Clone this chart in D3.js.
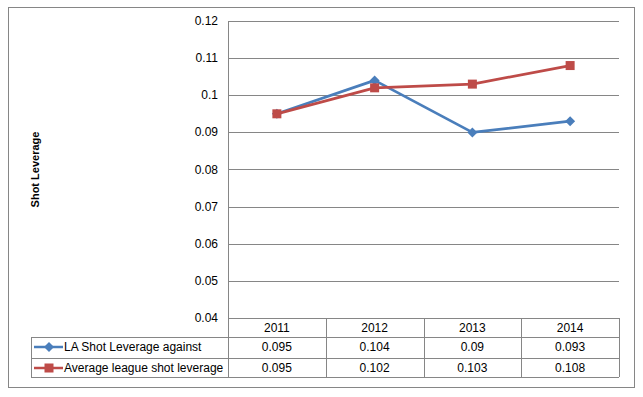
<!DOCTYPE html>
<html>
<head>
<meta charset="utf-8">
<script src="https://cdn.jsdelivr.net/npm/d3@7"></script>
<style>
  body { margin: 0; background: #fff; }
  text { font-family: "Liberation Sans", Arial, sans-serif; fill: #000; }
</style>
</head>
<body>
<div id="chart"></div>
<script>
const years = ["2011", "2012", "2013", "2014"];
const laValues = [0.095, 0.104, 0.09, 0.093];
const leagueValues = [0.095, 0.102, 0.103, 0.108];
const yTicks = [0.04, 0.05, 0.06, 0.07, 0.08, 0.09, 0.1, 0.11, 0.12];
const seriesNames = ["LA Shot Leverage against", "Average league shot leverage"];

const width = 643, height = 397;
const plot = { left: 228, right: 619, top: 21, bottom: 318 };
const rowH = 20;
const tableLeft = 31;
const grid = "#868686";
const colors = ["#4A7EBB", "#BE4B48"];

const svg = d3.select("#chart").append("svg")
    .attr("width", width).attr("height", height);

// outer chart border
svg.append("rect").attr("x", 8.5).attr("y", 7.5).attr("width", 626).attr("height", 380)
    .attr("fill", "#fff").attr("stroke", grid);

const x = d3.scaleBand().domain(years).range([plot.left, plot.right]);
const y = d3.scaleLinear().domain([0.04, 0.12]).range([plot.bottom, plot.top]);

// gridlines
svg.append("g").selectAll("line").data(yTicks).enter().append("line")
    .attr("x1", plot.left).attr("x2", plot.right)
    .attr("y1", d => Math.round(y(d)) + 0.5).attr("y2", d => Math.round(y(d)) + 0.5)
    .attr("stroke", grid);

// y axis line
svg.append("line").attr("x1", plot.left + 0.5).attr("x2", plot.left + 0.5)
    .attr("y1", plot.top).attr("y2", plot.bottom + rowH * 3 - 1).attr("stroke", grid);

// tick labels
svg.append("g").selectAll("text").data(yTicks).enter().append("text")
    .attr("x", 218).attr("y", d => y(d) + 4)
    .attr("text-anchor", "end").attr("font-size", 12)
    .text(d => d3.format("")(+d.toFixed(2)));

// axis title
svg.append("text")
    .attr("transform", `translate(39,${(plot.top + plot.bottom) / 2}) rotate(-90)`)
    .attr("text-anchor", "middle").attr("font-size", 11).attr("font-weight", "bold")
    .text("Shot Leverage");

// data table
const t = svg.append("g");
const rowY = [plot.bottom, plot.bottom + rowH - 1, plot.bottom + rowH * 2, plot.bottom + rowH * 3 - 1];
rowY.forEach((ry, i) => {
    t.append("line").attr("x1", i === 0 ? plot.left : tableLeft).attr("x2", plot.right)
        .attr("y1", ry + 0.5).attr("y2", ry + 0.5).attr("stroke", grid);
});
t.append("line").attr("x1", tableLeft + 0.5).attr("x2", tableLeft + 0.5)
    .attr("y1", rowY[1]).attr("y2", rowY[3]).attr("stroke", grid);
years.forEach(yr => {
    const xr = Math.round(x(yr) + x.bandwidth()) + 0.5;
    t.append("line").attr("x1", xr).attr("x2", xr)
        .attr("y1", rowY[0]).attr("y2", rowY[3]).attr("stroke", grid);
    t.append("text").attr("x", x(yr) + x.bandwidth() / 2).attr("y", rowY[0] + 14)
        .attr("text-anchor", "middle").attr("font-size", 12).text(yr);
});

const allSeries = [laValues, leagueValues];
allSeries.forEach((vals, s) => {
    const ry = rowY[s + 1];
    vals.forEach((v, i) => {
        t.append("text").attr("x", x(years[i]) + x.bandwidth() / 2).attr("y", ry + 14)
            .attr("text-anchor", "middle").attr("font-size", 12).text(v);
    });
    t.append("text").attr("x", 64).attr("y", ry + 14).attr("font-size", 12).text(seriesNames[s]);
    // legend key
    const ky = ry + 10;
    t.append("line").attr("x1", 34).attr("x2", 63).attr("y1", ky).attr("y2", ky)
        .attr("stroke", colors[s]).attr("stroke-width", 2.5);
    drawMarker(t, s, 49, ky);
});

// lines
const line = d3.line().x((d, i) => x(years[i]) + x.bandwidth() / 2).y(d => y(d));
allSeries.forEach((vals, s) => {
    svg.append("path").datum(vals).attr("d", line)
        .attr("fill", "none").attr("stroke", colors[s]).attr("stroke-width", 2.75)
        .attr("stroke-linejoin", "round");
    vals.forEach((v, i) => drawMarker(svg, s, x(years[i]) + x.bandwidth() / 2, y(v)));
});

function drawMarker(g, s, cx, cy) {
    if (s === 0) {
        g.append("path").attr("d", `M${cx},${cy - 5}L${cx + 5},${cy}L${cx},${cy + 5}L${cx - 5},${cy}Z`)
            .attr("fill", colors[0]);
    } else {
        g.append("rect").attr("x", cx - 4.5).attr("y", cy - 4.5).attr("width", 9).attr("height", 9)
            .attr("fill", colors[1]);
    }
}
</script>
</body>
</html>
